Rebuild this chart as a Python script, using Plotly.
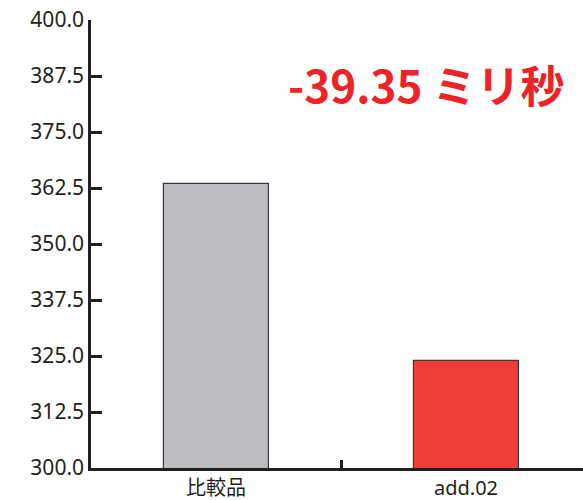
import plotly.graph_objects as go

categories = ["比較品", "add.02"]
values = [363.3, 323.95]
bar_colors = ["#bcbdc0", "#ee3e37"]
y_ticks = [300.0, 312.5, 325.0, 337.5, 350.0, 362.5, 375.0, 387.5, 400.0]
diff_label = "-39.35 ミリ秒"

axis_color = "#231f20"
font_family = "Noto Sans, Noto Sans CJK JP"

fig = go.Figure()
fig.add_trace(go.Bar(
    x=categories,
    y=values,
    width=0.42,
    marker=dict(color=bar_colors, line=dict(color="#3a3a3a", width=1.2)),
    showlegend=False,
))

fig.add_annotation(
    x=0.681, y=0.857, xref="paper", yref="paper",
    text=diff_label, showarrow=False,
    font=dict(family="Noto Sans CJK JP", size=44, color="#ed2327", weight="bold"),
    xanchor="center", yanchor="middle",
)

fig.update_layout(
    width=583, height=500,
    margin=dict(l=91, r=0, t=20, b=32),
    paper_bgcolor="white", plot_bgcolor="white",
    bargap=0,
    font=dict(family=font_family, size=20, color=axis_color),
)
fig.update_xaxes(
    type="category",
    range=[-0.5, 1.468],
    tickson="boundaries",
    ticks="inside", ticklen=8, tickwidth=2.5, tickcolor=axis_color,
    showline=True, linewidth=2.5, linecolor=axis_color,
    showgrid=False, zeroline=False,
    tickfont=dict(family=font_family, size=20, color=axis_color),
)
fig.update_yaxes(
    range=[300, 400],
    tickvals=y_ticks,
    ticktext=[f"{v:.1f}" for v in y_ticks],
    ticks="inside", ticklen=11, tickwidth=2.5, tickcolor=axis_color,
    showline=True, linewidth=2.5, linecolor=axis_color,
    showgrid=False, zeroline=False,
    tickfont=dict(family=font_family, size=21, color=axis_color),
)

fig.write_html("out.html")
